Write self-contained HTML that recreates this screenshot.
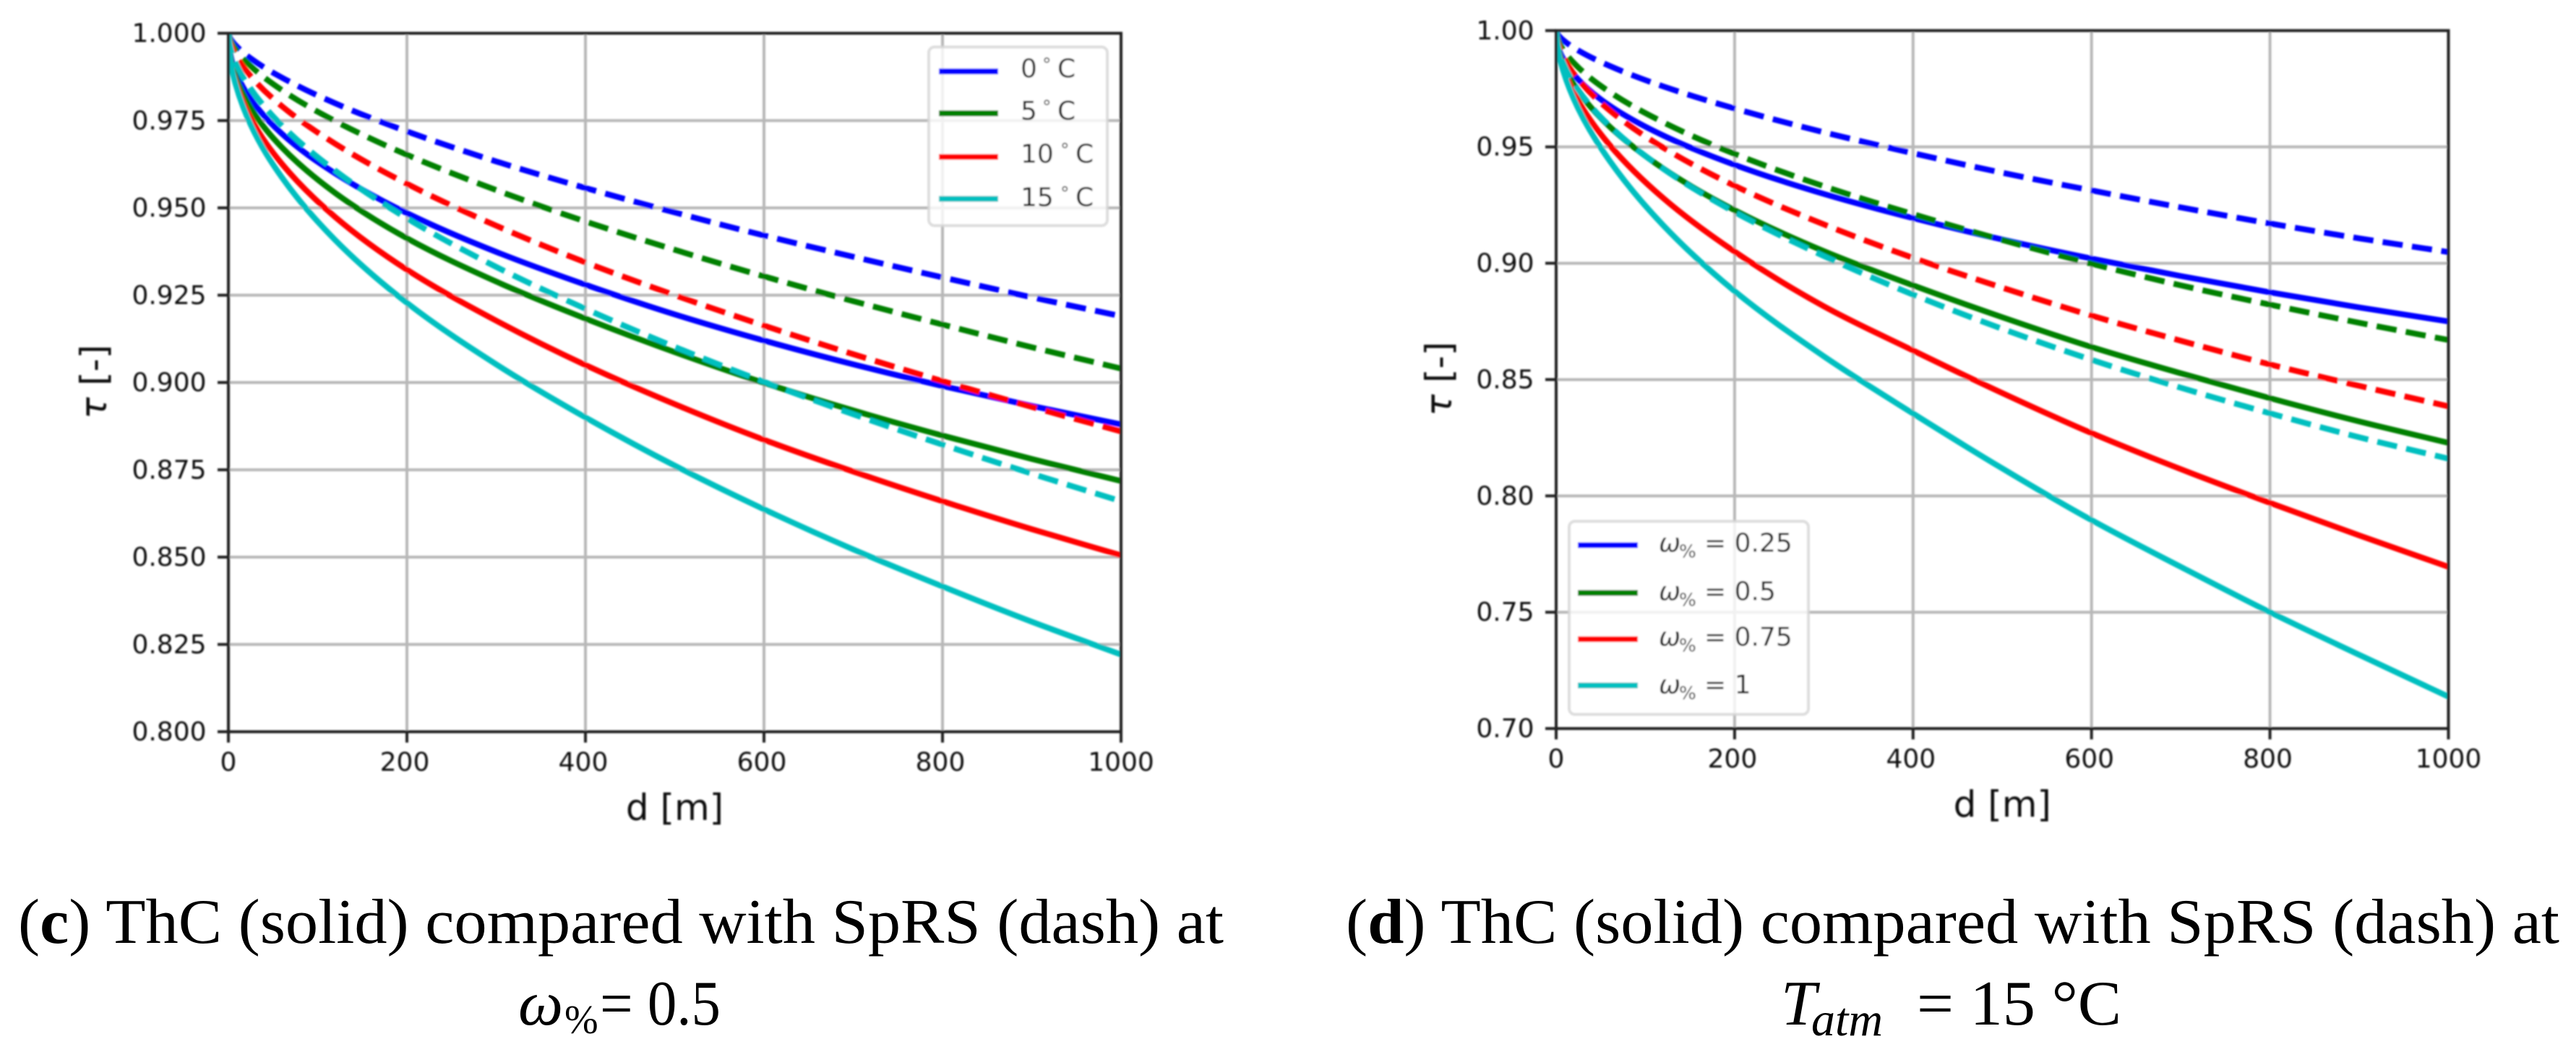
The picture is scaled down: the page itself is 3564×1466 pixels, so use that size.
<!DOCTYPE html>
<html lang="en">
<head>
<meta charset="utf-8">
<title>ThC compared with SpRS</title>
<style>
html,body{margin:0;padding:0;background:#fff;}
svg{display:block;}
.tick{font-family:"DejaVu Sans",sans-serif;font-size:36px;fill:#111;}
.axis{font-family:"DejaVu Sans",sans-serif;font-size:50px;fill:#111;}
.leg{font-family:"DejaVu Sans",sans-serif;font-size:36px;fill:#111;}
.cap{font-family:"Liberation Serif",serif;font-size:88px;fill:#000;}
</style>
</head>
<body>
<svg id="figure" xmlns="http://www.w3.org/2000/svg" width="3564" height="1466" viewBox="0 0 3564 1466">
<defs>
<filter id="soft" x="-2%" y="-2%" width="104%" height="104%"><feGaussianBlur stdDeviation="1.1"/></filter>
<clipPath id="clip-c"><rect x="316" y="46" width="1235" height="966"/></clipPath>
<clipPath id="clip-d"><rect x="2153" y="42.3" width="1234.5" height="965.3"/></clipPath>
</defs>
<rect width="3564" height="1466" fill="#fff"/>

<g filter="url(#soft)">
<g id="panel-c"></g>
<g id="legend-c">
<rect x="1285" y="65" width="247" height="247" rx="8" fill="#fff" fill-opacity="0.8" stroke="#d4d4d4" stroke-opacity="0.8" stroke-width="4"/>
<line x1="1299" x2="1381" y1="98.7" y2="98.7" stroke="#0000ff" stroke-width="8"/>
<line x1="1299" x2="1381" y1="156.7" y2="156.7" stroke="#008000" stroke-width="8"/>
<line x1="1299" x2="1381" y1="217" y2="217" stroke="#ff0000" stroke-width="8"/>
<line x1="1299" x2="1381" y1="275" y2="275" stroke="#00bfbf" stroke-width="8"/>
<text class="leg" y="107"><tspan x="1412">0</tspan><tspan x="1442" style="font-size:25px" dy="-9">°</tspan><tspan x="1463" dy="9">C</tspan></text>
<text class="leg" y="165.7"><tspan x="1412">5</tspan><tspan x="1442" style="font-size:25px" dy="-9">°</tspan><tspan x="1463" dy="9">C</tspan></text>
<text class="leg" y="225"><tspan x="1412">10</tspan><tspan x="1467" style="font-size:25px" dy="-9">°</tspan><tspan x="1488" dy="9">C</tspan></text>
<text class="leg" y="285"><tspan x="1412">15</tspan><tspan x="1467" style="font-size:25px" dy="-9">°</tspan><tspan x="1488" dy="9">C</tspan></text>
</g>

<g id="panel-d"></g>
<g id="legend-d">
<rect x="2171" y="721" width="331" height="267" rx="8" fill="#fff" fill-opacity="0.8" stroke="#d4d4d4" stroke-opacity="0.8" stroke-width="4"/>
<line x1="2183" x2="2266" y1="754" y2="754" stroke="#0000ff" stroke-width="8"/>
<line x1="2183" x2="2266" y1="820" y2="820" stroke="#008000" stroke-width="8"/>
<line x1="2183" x2="2266" y1="884" y2="884" stroke="#ff0000" stroke-width="8"/>
<line x1="2183" x2="2266" y1="948" y2="948" stroke="#00bfbf" stroke-width="8"/>
<text class="leg" y="763"><tspan x="2295" font-style="italic">ω</tspan><tspan x="2323" dy="8" style="font-size:25px">%</tspan><tspan x="2358" dy="-8">= 0.25</tspan></text>
<text class="leg" y="830"><tspan x="2295" font-style="italic">ω</tspan><tspan x="2323" dy="8" style="font-size:25px">%</tspan><tspan x="2358" dy="-8">= 0.5</tspan></text>
<text class="leg" y="893"><tspan x="2295" font-style="italic">ω</tspan><tspan x="2323" dy="8" style="font-size:25px">%</tspan><tspan x="2358" dy="-8">= 0.75</tspan></text>
<text class="leg" y="959"><tspan x="2295" font-style="italic">ω</tspan><tspan x="2323" dy="8" style="font-size:25px">%</tspan><tspan x="2358" dy="-8">= 1</tspan></text>
</g>
</g>

<g>
<text class="cap" x="25" y="1304" textLength="1668" lengthAdjust="spacingAndGlyphs">(<tspan font-weight="bold">c</tspan>) ThC (solid) compared with SpRS (dash) at</text>
<text class="cap" x="717" y="1417" font-style="italic">ω</text>
<text class="cap" x="781" y="1429" style="font-size:56px">%</text>
<text class="cap" x="830" y="1417" textLength="167" lengthAdjust="spacingAndGlyphs">= 0.5</text>
</g>
<g>
<text class="cap" x="1862" y="1304" textLength="1679" lengthAdjust="spacingAndGlyphs">(<tspan font-weight="bold">d</tspan>) ThC (solid) compared with SpRS (dash) at</text>
<text class="cap" x="2464" y="1417" font-style="italic">T</text>
<text class="cap" x="2506" y="1432" font-style="italic" style="font-size:66px">atm</text>
<text class="cap" x="2652" y="1417" textLength="283" lengthAdjust="spacingAndGlyphs">= 15 °C</text>
</g>
</svg>

<script>
var distances = [0, 2, 8, 25, 60, 120, 200, 300, 400, 500, 600, 700, 800, 900, 1000];
var xTicks = [0, 200, 400, 600, 800, 1000];

var cTicks = [1.000, 0.975, 0.950, 0.925, 0.900, 0.875, 0.850, 0.825, 0.800];
var cTickLabels = ['1.000', '0.975', '0.950', '0.925', '0.900', '0.875', '0.850', '0.825', '0.800'];
var dTicks = [1.00, 0.95, 0.90, 0.85, 0.80, 0.75, 0.70];
var dTickLabels = ['1.00', '0.95', '0.90', '0.85', '0.80', '0.75', '0.70'];

var c0Solid  = [1, .9944, .9891, .9812, .9712, .9598, .9485, .9374, .9280, .9195, .9120, .9052, .8990, .8933, .888];
var c0Dash   = [1, .9986, .9966, .9928, .9873, .9799, .9719, .9633, .9557, .9487, .9421, .9360, .9301, .9244, .919];
var c5Solid  = [1, .9937, .9877, .9786, .9673, .9542, .9413, .9289, .9183, .9087, .8999, .8920, .8848, .8781, .8718];
var c5Dash   = [1, .9981, .9954, .9906, .9837, .9748, .9652, .9551, .9461, .9380, .9304, .9233, .9166, .9101, .904];
var c10Solid = [1, .9930, .9862, .9757, .9626, .9473, .9323, .9177, .9050, .8938, .8836, .8745, .8660, .8580, .8505];
var c10Dash  = [1, .9973, .9938, .9877, .9791, .9683, .9569, .9449, .9344, .9250, .9163, .9081, .9004, .8930, .886];
var c15Solid = [1, .9929, .9855, .9738, .9587, .9407, .9228, .9052, .8900, .8762, .8637, .8522, .8416, .8315, .8221];
var c15Dash  = [1, .9963, .9917, .9841, .9736, .9606, .9470, .9331, .9211, .9102, .9002, .8909, .8822, .8739, .866];

var d025Solid = [1, .9938, .9878, .9789, .9677, .9549, .9423, .9298, .9194, .9102, .9020, .8945, .8875, .8810, .8750];
var d025Dash  = [1, .9983, .9959, .9914, .9848, .9760, .9665, .9563, .9473, .9389, .9313, .9240, .9171, .9107, .9048];
var d05Solid  = [1, .9929, .9855, .9738, .9587, .9407, .9228, .9052, .8905, .8768, .8640, .8527, .8420, .8320, .8228];
var d05Dash   = [1, .9963, .9917, .9841, .9736, .9606, .9470, .9331, .9211, .9100, .8998, .8905, .8822, .8744, .8670];
var d075Solid = [1, .9924, .9838, .9696, .9508, .9280, .9050, .8815, .8625, .8442, .8270, .8115, .7970, .7830, .7695];
var d075Dash  = [1, .9948, .9887, .9789, .9657, .9497, .9333, .9167, .9023, .8895, .8775, .8667, .8565, .8473, .8385];
var d1Solid   = [1, .9922, .9826, .9663, .9440, .9163, .8880, .8600, .8354, .8118, .7896, .7695, .7500, .7317, .7137];
var d1Dash    = [1, .9934, .9861, .9744, .9590, .9406, .9220, .9031, .8865, .8718, .8585, .8465, .8355, .8252, .8160];

var NS = 'http://www.w3.org/2000/svg';
var SPINE = '#222';
var GRID = '#b8b8b8';

function make(parent, tag, attrs) {
  var el = document.createElementNS(NS, tag);
  for (var k in attrs) el.setAttribute(k, attrs[k]);
  parent.appendChild(el);
  return el;
}

// Monotone cubic path through pixel points
function monotonePath(px, py) {
  var n = px.length, dx = [], m = [], t = [], i;
  for (i = 0; i < n - 1; i++) { dx[i] = px[i + 1] - px[i]; m[i] = (py[i + 1] - py[i]) / dx[i]; }
  t[0] = m[0]; t[n - 1] = m[n - 2];
  for (i = 1; i < n - 1; i++) {
    if (m[i - 1] * m[i] <= 0) { t[i] = 0; continue; }
    var w1 = 2 * dx[i] + dx[i - 1], w2 = dx[i] + 2 * dx[i - 1];
    t[i] = (w1 + w2) / (w1 / m[i - 1] + w2 / m[i]);
  }
  var d = 'M' + px[0].toFixed(2) + ' ' + py[0].toFixed(2);
  for (i = 0; i < n - 1; i++) {
    var h = dx[i] / 3;
    d += 'C' + (px[i] + h).toFixed(2) + ' ' + (py[i] + t[i] * h).toFixed(2) + ' ' +
         (px[i + 1] - h).toFixed(2) + ' ' + (py[i + 1] - t[i + 1] * h).toFixed(2) + ' ' +
         px[i + 1].toFixed(2) + ' ' + py[i + 1].toFixed(2);
  }
  return d;
}

function drawPanel(root, box, yMin, yMax, yTicks, yLabels, series, clipId, labelCfg) {
  function xScale(v) { return box.left + (v / 1000) * (box.right - box.left); }
  function yScale(v) { return box.top + ((yMax - v) / (yMax - yMin)) * (box.bottom - box.top); }

  xTicks.forEach(function (v) {
    var gl = make(root, 'line', {x1: xScale(v), x2: xScale(v), y1: box.top, y2: box.bottom, stroke: GRID, 'stroke-width': 4});
    
    
  });
  yTicks.forEach(function (v) {
    var gl = make(root, 'line', {x1: box.left, x2: box.right, y1: yScale(v), y2: yScale(v), stroke: GRID, 'stroke-width': 4});
    
    
  });

  var lines = make(root, 'g', {'clip-path': 'url(#' + clipId + ')'});
  
  
  series.forEach(function (s) {
    var px = distances.map(xScale);
    var py = s.values.map(yScale);
    var attrs = {d: monotonePath(px, py), fill: 'none', stroke: s.color, 'stroke-width': 8};
    if (s.dash) attrs['stroke-dasharray'] = '28 13';
    var p = make(lines, 'path', attrs);
    
    
  });

  xTicks.forEach(function (v) {
    var tk = make(root, 'line', {x1: xScale(v), x2: xScale(v), y1: box.bottom, y2: box.bottom + 15, stroke: SPINE, 'stroke-width': 4});
    
    
    var tx = make(root, 'text', {x: xScale(v) - (v === 200 || v === 400 || v === 600 || v === 800 ? 3 : 0), y: box.bottom + 54, 'text-anchor': 'middle', 'class': 'tick'});
    tx.textContent = String(v);
    
    
  });
  yTicks.forEach(function (v, i) {
    var tk = make(root, 'line', {x1: box.left - 15, x2: box.left, y1: yScale(v), y2: yScale(v), stroke: SPINE, 'stroke-width': 4});
    
    
    var tx = make(root, 'text', {x: box.left - 30.5, y: yScale(v) + 12, 'text-anchor': 'end', 'class': 'tick'});
    tx.textContent = yLabels[i];
    
    
  });

  var frame = make(root, 'rect', {x: box.left, y: box.top, width: box.right - box.left, height: box.bottom - box.top, fill: 'none', stroke: SPINE, 'stroke-width': 4});
  
  

  var xl = make(root, 'text', {x: (box.left + box.right) / 2, y: box.bottom + 122, 'text-anchor': 'middle', 'class': 'axis'});
  xl.textContent = 'd [m]';
  
  

  var yl = make(root, 'text', {transform: 'translate(' + labelCfg.x + ' ' + labelCfg.y + ') rotate(-90)', 'text-anchor': 'middle', 'class': 'axis'});
  var tau = make(yl, 'tspan', {'font-style': 'italic'});
  tau.textContent = 'τ';
  var rest = make(yl, 'tspan', {});
  rest.textContent = ' [-]';
  
  
}

var BLUE = '#0000ff', GREEN = '#008000', RED = '#ff0000', CYAN = '#00bfbf';

drawPanel(document.getElementById('panel-c'), {left: 316, right: 1551, top: 46, bottom: 1012}, 0.8, 1.0, cTicks, cTickLabels, [
  {name: 'line-0c-solid', values: c0Solid, color: BLUE, dash: false},
  {name: 'line-0c-dash', values: c0Dash, color: BLUE, dash: true},
  {name: 'line-5c-solid', values: c5Solid, color: GREEN, dash: false},
  {name: 'line-5c-dash', values: c5Dash, color: GREEN, dash: true},
  {name: 'line-10c-solid', values: c10Solid, color: RED, dash: false},
  {name: 'line-10c-dash', values: c10Dash, color: RED, dash: true},
  {name: 'line-15c-solid', values: c15Solid, color: CYAN, dash: false},
  {name: 'line-15c-dash', values: c15Dash, color: CYAN, dash: true}
], 'clip-c', {x: 147, y: 528});

drawPanel(document.getElementById('panel-d'), {left: 2153, right: 3387.5, top: 42.3, bottom: 1007.6}, 0.7, 1.0, dTicks, dTickLabels, [
  {name: 'line-025-solid', values: d025Solid, color: BLUE, dash: false},
  {name: 'line-025-dash', values: d025Dash, color: BLUE, dash: true},
  {name: 'line-05-solid', values: d05Solid, color: GREEN, dash: false},
  {name: 'line-05-dash', values: d05Dash, color: GREEN, dash: true},
  {name: 'line-075-solid', values: d075Solid, color: RED, dash: false},
  {name: 'line-075-dash', values: d075Dash, color: RED, dash: true},
  {name: 'line-1-solid', values: d1Solid, color: CYAN, dash: false},
  {name: 'line-1-dash', values: d1Dash, color: CYAN, dash: true}
], 'clip-d', {x: 2008, y: 524});
</script>
</body>
</html>
